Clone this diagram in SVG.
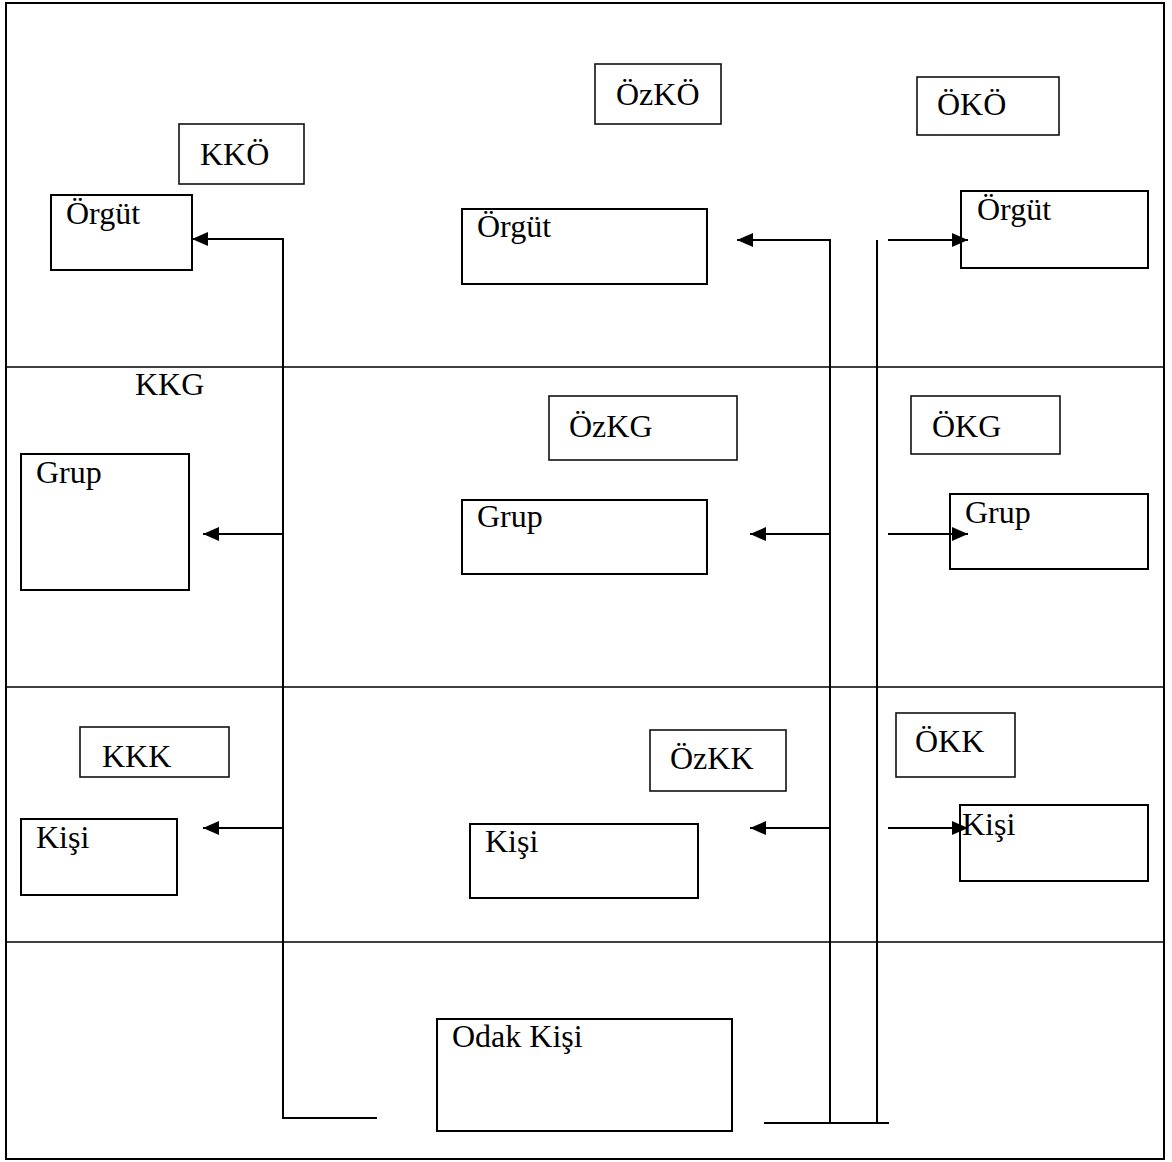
<svg xmlns="http://www.w3.org/2000/svg" width="1172" height="1162" viewBox="0 0 1172 1162">
<style>
text{font-family:'Liberation Serif','Times New Roman','DejaVu Serif',serif;font-size:32px;fill:#000}
.box{fill:#fff;stroke:#000;stroke-width:2}
.lbl{fill:#fff;stroke:#111;stroke-width:1.6}
.ln{stroke:#000;stroke-width:2;fill:none}
.div{stroke:#000;stroke-width:1.6}
</style>
<defs>
<marker id="ah" viewBox="0 0 16 14" markerUnits="userSpaceOnUse" markerWidth="16" markerHeight="14" refX="16" refY="7" orient="auto">
<path d="M0,0 L16,7 L0,14 z" fill="#000"/>
</marker>
</defs>
<rect x="0" y="0" width="1172" height="1162" fill="#fff"/>
<g id="frame">
<rect x="6" y="3" width="1158" height="1156" fill="none" stroke="#000" stroke-width="2"/>
<line class="div" x1="6" y1="367" x2="1164" y2="367"/>
<line class="div" x1="6" y1="687" x2="1164" y2="687"/>
<line class="div" x1="6" y1="942" x2="1164" y2="942"/>
</g>
<g id="kko"><rect class="lbl" x="179" y="124" width="125" height="60"/><text x="200" y="165">KKÖ</text></g>
<g id="ozko"><rect class="lbl" x="595" y="64" width="126" height="60"/><text x="616" y="105">ÖzKÖ</text></g>
<g id="oko"><rect class="lbl" x="917" y="77" width="142" height="58"/><text x="937" y="115">ÖKÖ</text></g>
<g id="orgut-left"><rect class="box" x="51" y="195" width="141" height="75"/><text x="66" y="224">Örgüt</text></g>
<g id="orgut-mid"><rect class="box" x="462" y="209" width="245" height="75"/><text x="477" y="237">Örgüt</text></g>
<g id="orgut-right"><rect class="box" x="961" y="191" width="187" height="77"/><text x="977" y="220">Örgüt</text></g>
<g id="kkg"><text x="135" y="395">KKG</text></g>
<g id="ozkg"><rect class="lbl" x="549" y="396" width="188" height="64"/><text x="569" y="437">ÖzKG</text></g>
<g id="okg"><rect class="lbl" x="911" y="396" width="149" height="58"/><text x="932" y="437">ÖKG</text></g>
<g id="grup-left"><rect class="box" x="21" y="454" width="168" height="136"/><text x="36" y="483">Grup</text></g>
<g id="grup-mid"><rect class="box" x="462" y="500" width="245" height="74"/><text x="477" y="527">Grup</text></g>
<g id="grup-right"><rect class="box" x="950" y="494" width="198" height="75"/><text x="965" y="523">Grup</text></g>
<g id="kkk"><rect class="lbl" x="80" y="727" width="149" height="50"/><text x="102" y="767">KKK</text></g>
<g id="ozkk"><rect class="lbl" x="650" y="730" width="136" height="61"/><text x="670" y="769">ÖzKK</text></g>
<g id="okk"><rect class="lbl" x="896" y="713" width="119" height="64"/><text x="915" y="752">ÖKK</text></g>
<g id="kisi-left"><rect class="box" x="21" y="819" width="156" height="76"/><text x="36" y="848">Kişi</text></g>
<g id="kisi-mid"><rect class="box" x="470" y="824" width="228" height="74"/><text x="485" y="852">Kişi</text></g>
<g id="kisi-right"><rect class="box" x="960" y="805" width="188" height="76"/><text x="962" y="835">Kişi</text></g>
<g id="odak-kisi"><rect class="box" x="437" y="1019" width="295" height="112"/><text x="452" y="1047">Odak Kişi</text></g>
<g id="connectors">
<polyline class="ln" points="377,1118 283,1118 283,239 192,239" marker-end="url(#ah)"/>
<line class="ln" x1="283" y1="534" x2="203" y2="534" marker-end="url(#ah)"/>
<line class="ln" x1="283" y1="828" x2="203" y2="828" marker-end="url(#ah)"/>
<line class="ln" x1="764" y1="1123" x2="889" y2="1123"/>
<polyline class="ln" points="830,1123 830,240 737,240" marker-end="url(#ah)"/>
<line class="ln" x1="877" y1="240" x2="877" y2="1123"/>
<line class="ln" x1="830" y1="534" x2="750" y2="534" marker-end="url(#ah)"/>
<line class="ln" x1="830" y1="828" x2="750" y2="828" marker-end="url(#ah)"/>
<line class="ln" x1="888" y1="240" x2="968" y2="240" marker-end="url(#ah)"/>
<line class="ln" x1="888" y1="534" x2="968" y2="534" marker-end="url(#ah)"/>
<line class="ln" x1="888" y1="828" x2="968" y2="828" marker-end="url(#ah)"/>
</g>
</svg>
